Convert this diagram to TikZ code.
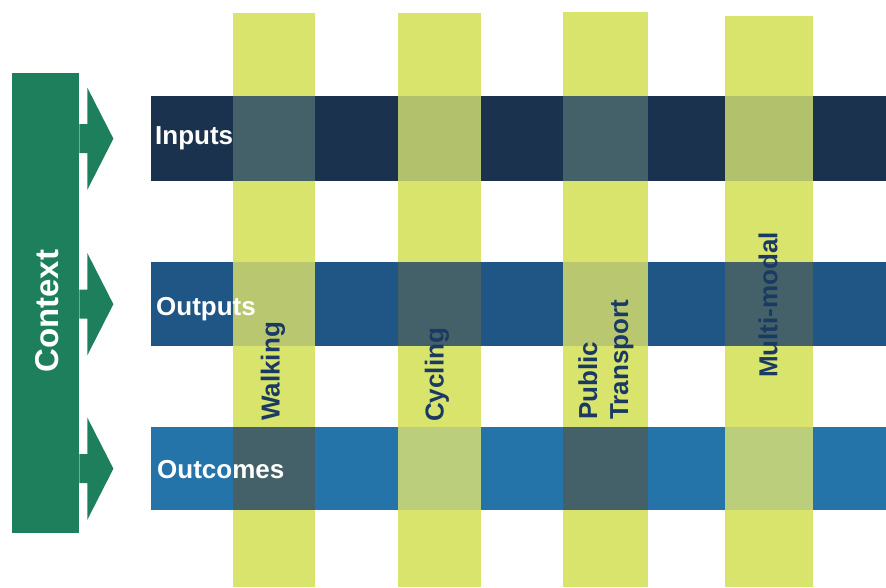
\documentclass[tikz,border=0pt]{standalone}
\usepackage{fontspec}
\setmainfont{Liberation Sans}
\usetikzlibrary{positioning}

\definecolor{ctxgreen}{RGB}{30,127,92}
\definecolor{inputsblue}{RGB}{27,50,78}
\definecolor{outputsblue}{RGB}{31,86,133}
\definecolor{outcomesblue}{RGB}{36,116,170}
\definecolor{lime}{RGB}{217,228,108}
\definecolor{oliveinputs}{RGB}{178,193,107}
\definecolor{oliveoutputs}{RGB}{185,200,112}
\definecolor{oliveoutcomes}{RGB}{186,206,123}
\definecolor{weave}{RGB}{68,96,105}
\definecolor{modetext}{RGB}{27,58,99}

\begin{document}
\begin{tikzpicture}[x=1pt, y=-1pt,
  band/.style={
    % The shape:
    rectangle, anchor=north west,
    % The rest
    inner sep=0pt, draw=none},
  bandlabel/.style={
    inner sep=0pt, text=white,
    font=\bfseries\fontsize{26}{31}\selectfont},
  modelabel/.style={
    % turned to read upwards
    rotate=90, anchor=west,
    inner sep=0pt, align=left, text=modetext,
    font=\bfseries\fontsize{26}{31}\selectfont}]

  \useasboundingbox (0,0) rectangle (886,587);

  % context bar
  \node (context) [band, fill=ctxgreen, minimum width=67, minimum height=460] at (12,73) {};
  % shifts are taken in the turned frame
  \node (contextlabel) [rotate=90, inner sep=0pt, text=white,
    font=\bfseries\fontsize{33}{40}\selectfont, xshift=-8pt, yshift=-1.5pt] at (context.center) {Context};

  % rows
  \node (inputs) [band, fill=inputsblue, minimum width=735, minimum height=85] at (151,96) {};
  \node (outputs) [band, fill=outputsblue, minimum width=735, minimum height=84] at (151,262) {};
  \node (outcomes) [band, fill=outcomesblue, minimum width=735, minimum height=83] at (151,427) {};

  % columns
  \node (walking) [band, fill=lime, minimum width=82, minimum height=574] at (233,13) {};
  \node (cycling) [band, fill=lime, minimum width=83, minimum height=574] at (398,13) {};
  \node (public) [band, fill=lime, minimum width=85, minimum height=575] at (563,12) {};
  \node (multi) [band, fill=lime, minimum width=88, minimum height=571] at (725,16) {};

  % crossings: lime over the row, or the row over lime
  \foreach \r/\o [count=\i] in {inputs/oliveinputs, outputs/oliveoutputs, outcomes/oliveoutcomes}
    \foreach \c [count=\j] in {walking, cycling, public, multi} {
      \pgfmathtruncatemacro{\k}{\i+\j}
      \ifodd\k \def\patch{\o}\else\def\patch{weave}\fi
      \fill[\patch] (\c.west |- \r.north) rectangle (\c.east |- \r.south);
    }

  % block arrows from the context bar
  \foreach \r in {inputs, outputs, outcomes}
    \fill[ctxgreen] (context.east |- \r.west) ++(0,-14.5) -- ++(8,0) -- ++(0,-36.5)
      -- ++(26,51) -- ++(-26,51) -- ++(0,-36.5) -- ++(-8,0) -- cycle;

  % row labels
  \node (inputslabel) [bandlabel, right=4pt of inputs.west] {Inputs};
  \node (outputslabel) [bandlabel, right=5pt of outputs.west, yshift=-5pt] {Outputs};
  \node (outcomeslabel) [bandlabel, right=6pt of outcomes.west, yshift=-1pt] {Outcomes};

  % column labels
  \node (walkinglabel) [modelabel] at (273,421) {Walking};
  \node (cyclinglabel) [modelabel] at (437,422) {Cycling};
  \node (publiclabel) [modelabel] at (606,420) {Public\\Transport};
  \node (multilabel) [modelabel] at (768,378) {Multi-modal};
\end{tikzpicture}
\end{document}
